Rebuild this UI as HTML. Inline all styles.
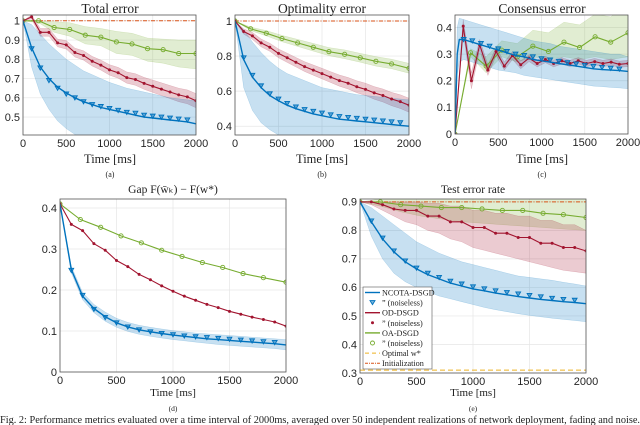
<!DOCTYPE html>
<html><head><meta charset="utf-8"><style>
html,body{margin:0;padding:0;background:#fff;}
svg{display:block;}
.tk{font-family:"Liberation Sans",sans-serif;font-size:11px;fill:#262626;}
.sf{font-family:"Liberation Serif",serif;fill:#222;font-weight:normal;}
</style></head><body>
<svg id="fig" width="640" height="425" viewBox="0 0 640 425" xmlns="http://www.w3.org/2000/svg"></svg>
<script>
// ---- shared time grids ----
const tStep = [0,100,200,300,400,500,600,700,800,900,1000,1100,1200,1300,1400,1500,1600,1700,1800,1900,2000];
const tMark = [100,200,300,400,500,600,700,800,900,1000,1100,1200,1300,1400,1500,1600,1700,1800,1900];
const tGreen = [0,180,360,540,720,900,1080,1260,1440,1620,1800,2000];
const xTicks = [0,500,1000,1500,2000];

// ---- (a) Total error ----
const aBlue = [1,0.86,0.76,0.70,0.655,0.625,0.60,0.58,0.565,0.55,0.54,0.53,0.52,0.51,0.50,0.495,0.49,0.485,0.48,0.475,0.465];
const aBlueHi = [1,0.98,0.93,0.88,0.84,0.80,0.77,0.74,0.72,0.70,0.68,0.665,0.65,0.64,0.63,0.62,0.61,0.60,0.595,0.59,0.585];
const aBlueLo = [1,0.76,0.62,0.54,0.48,0.44,0.41,0.39,0.37,0.36,0.35,0.34,0.33,0.32,0.31,0.30,0.30,0.29,0.29,0.28,0.28];
const aBlueMk = [0.855,0.755,0.69,0.65,0.62,0.60,0.58,0.565,0.555,0.545,0.535,0.525,0.52,0.51,0.505,0.50,0.495,0.49,0.485];
const aRed = [1,1.02,0.94,0.94,0.885,0.875,0.835,0.82,0.79,0.77,0.745,0.73,0.705,0.695,0.675,0.66,0.645,0.63,0.615,0.605,0.585];
const aRedHi = [1,1.03,0.96,0.96,0.905,0.897,0.858,0.844,0.815,0.796,0.772,0.758,0.734,0.725,0.706,0.692,0.678,0.664,0.65,0.641,0.622];
const aRedLo = [1,1.01,0.92,0.92,0.865,0.853,0.812,0.796,0.765,0.744,0.718,0.702,0.676,0.665,0.644,0.628,0.612,0.596,0.58,0.569,0.548];
const aGreen = [1,1,0.965,0.955,0.925,0.915,0.89,0.88,0.855,0.85,0.83,0.83];
const aGreenHi = [1,1,0.995,0.99,0.97,0.96,0.945,0.935,0.91,0.905,0.9,0.9];
const aGreenLo = [1,0.99,0.94,0.92,0.88,0.87,0.83,0.82,0.79,0.78,0.76,0.75];
const aYTicks = [0.5,0.6,0.7,0.8,0.9,1];
const aYLabels = ["0.5","0.6","0.7","0.8","0.9","1"];

// ---- (b) Optimality error ----
const bBlue = [1,0.78,0.68,0.62,0.575,0.545,0.52,0.50,0.485,0.47,0.46,0.45,0.44,0.435,0.43,0.425,0.42,0.415,0.41,0.405,0.40];
const bBlueHi = [1,0.95,0.88,0.82,0.77,0.73,0.70,0.68,0.66,0.64,0.62,0.61,0.60,0.59,0.58,0.575,0.57,0.565,0.56,0.555,0.55];
const bBlueLo = [1,0.62,0.49,0.42,0.38,0.35,0.33,0.32,0.31,0.30,0.29,0.28,0.28,0.27,0.27,0.26,0.26,0.25,0.25,0.25,0.24];
const bBlueMk = [0.79,0.69,0.63,0.585,0.555,0.53,0.51,0.495,0.485,0.475,0.465,0.455,0.45,0.445,0.44,0.435,0.43,0.425,0.42];
const bRed = [1,0.94,0.915,0.875,0.85,0.815,0.79,0.765,0.74,0.72,0.70,0.68,0.66,0.645,0.625,0.61,0.59,0.575,0.555,0.54,0.52];
const bRedHi = [1,0.955,0.935,0.897,0.873,0.84,0.816,0.792,0.768,0.749,0.73,0.711,0.692,0.678,0.659,0.645,0.626,0.612,0.593,0.579,0.56];
const bRedLo = [1,0.925,0.895,0.853,0.827,0.79,0.764,0.738,0.712,0.691,0.67,0.649,0.628,0.612,0.591,0.575,0.554,0.538,0.517,0.501,0.48];
const bGreen = [1,0.955,0.93,0.9,0.875,0.85,0.825,0.81,0.79,0.77,0.755,0.73];
const bGreenHi = [1,0.965,0.945,0.918,0.895,0.872,0.848,0.835,0.815,0.797,0.782,0.758];
const bGreenLo = [1,0.945,0.915,0.882,0.855,0.828,0.802,0.785,0.765,0.743,0.728,0.702];
const bYTicks = [0.4,0.6,0.8,1];
const bYLabels = ["0.4","0.6","0.8","1"];

// ---- (c) Consensus error ----
const tCons = [0,25,50,100,200,300,400,500,600,700,800,900,1000,1100,1200,1300,1400,1500,1600,1700,1800,1900,2000];
const cBlue = [0,0.3,0.355,0.355,0.345,0.335,0.325,0.315,0.305,0.295,0.29,0.28,0.275,0.27,0.265,0.26,0.255,0.25,0.245,0.242,0.24,0.238,0.235];
const cBlueHi = [0,0.4,0.435,0.43,0.42,0.41,0.40,0.39,0.38,0.37,0.36,0.35,0.345,0.34,0.33,0.325,0.32,0.315,0.31,0.305,0.30,0.30,0.29];
const cBlueLo = [0,0.22,0.27,0.28,0.27,0.26,0.25,0.24,0.235,0.23,0.22,0.215,0.21,0.205,0.2,0.195,0.19,0.185,0.18,0.178,0.175,0.173,0.17];
const cBlueMk = [0.355,0.35,0.34,0.33,0.32,0.31,0.30,0.295,0.29,0.283,0.278,0.273,0.268,0.263,0.258,0.254,0.25,0.247,0.244];
const tRedC = [0,95,190,285,380,475,570,665,760,855,950,1045,1140,1235,1330,1425,1520,1615,1710,1805,1900,2000];
const cRed = [0,0.405,0.2,0.335,0.24,0.31,0.255,0.295,0.26,0.285,0.265,0.28,0.265,0.275,0.265,0.275,0.265,0.272,0.265,0.27,0.262,0.265];
const cRedHi = [0,0.43,0.23,0.355,0.26,0.325,0.27,0.31,0.275,0.298,0.278,0.292,0.278,0.287,0.277,0.287,0.277,0.284,0.277,0.282,0.274,0.277];
const cRedLo = [0,0.38,0.17,0.315,0.22,0.295,0.24,0.28,0.245,0.272,0.252,0.268,0.252,0.263,0.253,0.263,0.253,0.26,0.253,0.258,0.25,0.253];
const cGreen = [0,0.305,0.255,0.315,0.29,0.33,0.31,0.345,0.325,0.365,0.345,0.38];
const cGreenHi = [0,0.32,0.29,0.35,0.34,0.39,0.38,0.42,0.41,0.45,0.44,0.49];
const cGreenLo = [0,0.29,0.23,0.29,0.27,0.29,0.28,0.29,0.28,0.29,0.28,0.29];
const cYTicks = [0,0.1,0.2,0.3,0.4];
const cYLabels = ["0","0.1","0.2","0.3","0.4"];

// ---- (d) Gap ----
const dBlue = [0.41,0.25,0.185,0.155,0.135,0.12,0.11,0.103,0.098,0.094,0.09,0.087,0.084,0.081,0.079,0.077,0.075,0.073,0.071,0.069,0.066];
const dBlueHi = [0.41,0.258,0.194,0.165,0.146,0.131,0.121,0.114,0.109,0.105,0.101,0.098,0.095,0.093,0.091,0.089,0.087,0.085,0.083,0.081,0.079];
const dBlueLo = [0.41,0.242,0.176,0.145,0.124,0.109,0.099,0.092,0.087,0.083,0.079,0.076,0.073,0.07,0.067,0.065,0.063,0.061,0.059,0.057,0.054];
const dBlueMk = [0.248,0.187,0.153,0.133,0.12,0.11,0.103,0.098,0.094,0.091,0.088,0.086,0.084,0.082,0.08,0.078,0.076,0.074,0.072];
const dRed = [0.41,0.36,0.345,0.313,0.297,0.272,0.257,0.238,0.225,0.21,0.197,0.185,0.175,0.165,0.157,0.148,0.141,0.134,0.128,0.122,0.112];
const dGreen = [0.41,0.372,0.353,0.332,0.315,0.297,0.282,0.267,0.255,0.24,0.23,0.219];
const dYTicks = [0,0.1,0.2,0.3,0.4];
const dYLabels = ["0","0.1","0.2","0.3","0.4"];

// ---- (e) Test error rate ----
const eBlue = [0.9,0.83,0.77,0.725,0.69,0.665,0.645,0.63,0.615,0.605,0.595,0.588,0.58,0.574,0.568,0.563,0.558,0.554,0.55,0.547,0.543];
const eBlueHi = [0.9,0.88,0.85,0.82,0.79,0.76,0.74,0.72,0.705,0.69,0.68,0.67,0.66,0.65,0.64,0.635,0.63,0.625,0.618,0.612,0.605];
const eBlueLo = [0.9,0.78,0.7,0.65,0.62,0.6,0.585,0.57,0.56,0.55,0.54,0.53,0.522,0.515,0.508,0.502,0.497,0.492,0.488,0.484,0.48];
const eBlueMk = [0.833,0.773,0.728,0.693,0.668,0.65,0.635,0.622,0.612,0.602,0.595,0.588,0.582,0.577,0.572,0.567,0.562,0.558,0.555];
const eRed = [0.9,0.9,0.89,0.875,0.87,0.87,0.85,0.85,0.83,0.83,0.81,0.81,0.79,0.79,0.775,0.775,0.755,0.755,0.74,0.74,0.728];
const eRedHi = [0.9,0.9,0.9,0.9,0.9,0.9,0.895,0.895,0.885,0.885,0.87,0.87,0.86,0.86,0.85,0.85,0.835,0.835,0.82,0.82,0.8];
const eRedLo = [0.9,0.89,0.87,0.85,0.83,0.82,0.8,0.79,0.77,0.76,0.74,0.73,0.72,0.71,0.7,0.69,0.68,0.67,0.66,0.655,0.65];
const eGreen = [0.9,0.9,0.89,0.885,0.88,0.88,0.875,0.87,0.87,0.86,0.855,0.845];
const eGreenHi = [0.9,0.91,0.91,0.91,0.91,0.91,0.91,0.91,0.91,0.91,0.91,0.91];
const eGreenLo = [0.9,0.885,0.865,0.85,0.84,0.83,0.825,0.82,0.815,0.81,0.805,0.8];
const eYTicks = [0.3,0.4,0.5,0.6,0.7,0.8,0.9];
const eYLabels = ["0.3","0.4","0.5","0.6","0.7","0.8","0.9"];
const eOptimal = 0.31;
const eInit = 0.9;

const legendLabels = ["NCOTA-DSGD","\u201D (noiseless)","OD-DSGD","\u201D (noiseless)","OA-DSGD","\u201D (noiseless)","Optimal w*","Initialization"];

const NS = "http://www.w3.org/2000/svg";
const svg = document.getElementById('fig');
const BLUE="#0072BD", RED="#A2142F", GREEN="#77AC30", YEL="#EDB120", INIT="#D95319";

function mk(tag, parent){ const e=document.createElementNS(NS,tag); (parent||svg).appendChild(e); return e; }
function attrs(e,o){ for(const k in o) e.setAttribute(k,o[k]); return e; }

function makeAxes(name, box, ymin, ymax, yTicks, yLabels){
  const g = mk('g');
  
  
  const sx = t => box.x0 + (t/2000)*(box.x1-box.x0);
  const sy = v => box.y1 - (v-ymin)/(ymax-ymin)*(box.y1-box.y0);
  const clipId = name+'-clip';
  const cp = mk('clipPath', g); cp.setAttribute('id', clipId);
  attrs(mk('rect', cp), {x:box.x0,y:box.y0,width:box.x1-box.x0,height:box.y1-box.y0});
  attrs(mk('rect', g), {x:box.x0,y:box.y0,width:box.x1-box.x0,height:box.y1-box.y0,fill:'#fff'});
  xTicks.forEach(t=>{
    const l = attrs(mk('line',g),{x1:sx(t),x2:sx(t),y1:box.y0,y2:box.y1,stroke:'#e6e6e6','stroke-width':0.7});
    
    
    const tx = attrs(mk('text',g),{x:sx(t),y:box.y1+12,'text-anchor':'middle',class:'tk'});
    tx.textContent = String(t);
    
    
  });
  yTicks.forEach((v,i)=>{
    const l = attrs(mk('line',g),{x1:box.x0,x2:box.x1,y1:sy(v),y2:sy(v),stroke:'#e6e6e6','stroke-width':0.7});
    
    
    const tx = attrs(mk('text',g),{x:box.x0-3,y:sy(v)+3.8,'text-anchor':'end',class:'tk'});
    tx.textContent = yLabels[i];
    
    
  });
  const plot = mk('g', g); plot.setAttribute('clip-path','url(#'+clipId+')');
  
  
  attrs(mk('rect', g), {x:box.x0,y:box.y0,width:box.x1-box.x0,height:box.y1-box.y0,fill:'none',stroke:'#555','stroke-width':0.8});
  return {g, plot, sx, sy, box};
}
function band(ax, ts, lo, hi, color, op, nm){
  let d='';
  ts.forEach((t,i)=>{ d += (i?'L':'M')+ax.sx(t).toFixed(1)+','+ax.sy(hi[i]).toFixed(1); });
  for(let i=ts.length-1;i>=0;i--) d += 'L'+ax.sx(ts[i]).toFixed(1)+','+ax.sy(lo[i]).toFixed(1);
  const p = attrs(mk('path',ax.plot),{d:d+'Z',fill:color,'fill-opacity':op,stroke:color,'stroke-opacity':0.25,'stroke-width':0.5});
  
  
}
function line(ax, ts, vs, color, w, nm, dash){
  const pts = ts.map((t,i)=>ax.sx(t).toFixed(1)+','+ax.sy(vs[i]).toFixed(1)).join(' ');
  const p = attrs(mk('polyline',ax.plot),{points:pts,fill:'none',stroke:color,'stroke-width':w,'stroke-linejoin':'round'});
  if(dash) p.setAttribute('stroke-dasharray',dash);
  
  
}
function markers(ax, ts, vs, type, nm){
  const g = mk('g', ax.plot);
  
  
  ts.forEach((t,i)=>{
    const x=ax.sx(t), y=ax.sy(vs[i]);
    let e;
    if(type==='tri'){ e=attrs(mk('path',g),{d:`M${x-2.4},${y-2} L${x+2.4},${y-2} L${x},${y+2.2}Z`,fill:BLUE,'fill-opacity':0.55,stroke:BLUE,'stroke-width':0.9}); }
    else if(type==='dot'){ e=attrs(mk('circle',g),{cx:x,cy:y,r:1.5,fill:RED}); }
    else { e=attrs(mk('circle',g),{cx:x,cy:y,r:2.1,fill:'none',stroke:GREEN,'stroke-width':0.9}); }
    
    
  });
}
function hline(ax, v, color, dash, nm){
  const l = attrs(mk('line',ax.plot),{x1:ax.box.x0,x2:ax.box.x1,y1:ax.sy(v),y2:ax.sy(v),stroke:color,'stroke-width':1,'stroke-dasharray':dash});
  
  
}
function label(x,y,txt,size,nm,anchor){
  const t = attrs(mk('text'),{x:x,y:y,'text-anchor':anchor||'middle',class:'sf','font-size':size});
  t.textContent = txt;
  
  
  return t;
}
function standard(ax, p){
  if(p.gLo) band(ax, tGreen, p.gLo, p.gHi, GREEN, 0.22, 'oa-band');
  if(p.rLo) band(ax, p.rT||tStep, p.rLo, p.rHi, RED, 0.22, 'od-band');
  if(p.bLo) band(ax, p.bT||tStep, p.bLo, p.bHi, BLUE, 0.22, 'ncota-band');
  if(p.init!==undefined) hline(ax, p.init, INIT, '4,1.5,1,1.5', 'initialization-line');
  line(ax, tGreen, p.g, GREEN, 1.1, 'oa-line');
  markers(ax, tGreen, p.g, 'circ', 'oa-noiseless-markers');
  line(ax, p.rT||tStep, p.r, RED, 1.1, 'od-line');
  markers(ax, p.rT||tStep, p.r, 'dot', 'od-noiseless-markers');
  line(ax, p.bT||tStep, p.b, BLUE, 1.4, 'ncota-line');
  markers(ax, tMark, p.bMk, 'tri', 'ncota-noiseless-markers');
}

const axA = makeAxes('total-error-chart',{x0:23,x1:196,y0:15,y1:135},0.407,1.03,aYTicks,aYLabels);
standard(axA,{b:aBlue,bLo:aBlueLo,bHi:aBlueHi,bMk:aBlueMk,r:aRed,rLo:aRedLo,rHi:aRedHi,g:aGreen,gLo:aGreenLo,gHi:aGreenHi,init:1});
label(110,13,'Total error',13.5,'total-error-title');
label(110,163,'Time [ms]',12.5,'x-axis-title-a');
label(110,177,'(a)',8,'subcaption-a');

const axB = makeAxes('optimality-error-chart',{x0:235,x1:409,y0:15,y1:135},0.35,1.034,bYTicks,bYLabels);
standard(axB,{b:bBlue,bLo:bBlueLo,bHi:bBlueHi,bMk:bBlueMk,r:bRed,rLo:bRedLo,rHi:bRedHi,g:bGreen,gLo:bGreenLo,gHi:bGreenHi,init:1});
label(322,13,'Optimality error',13.5,'optimality-error-title');
label(322,163,'Time [ms]',12.5,'x-axis-title-b');
label(322,177,'(b)',8,'subcaption-b');

const axC = makeAxes('consensus-error-chart',{x0:455,x1:628,y0:15,y1:134},0,0.447,cYTicks,cYLabels);
standard(axC,{b:cBlue,bT:tCons,bLo:cBlueLo,bHi:cBlueHi,bMk:cBlueMk,r:cRed,rT:tRedC,rLo:cRedLo,rHi:cRedHi,g:cGreen,gLo:cGreenLo,gHi:cGreenHi});
label(542,13,'Consensus error',13.5,'consensus-error-title');
label(542,163,'Time [ms]',12.5,'x-axis-title-c');
label(542,177,'(c)',8,'subcaption-c');

const axD = makeAxes('gap-chart',{x0:60,x1:286,y0:199,y1:372},0,0.422,dYTicks,dYLabels);
standard(axD,{b:dBlue,bLo:dBlueLo,bHi:dBlueHi,bMk:dBlueMk,r:dRed,g:dGreen});
label(173,193,'Gap F(w\u0304\u2096) \u2212 F(w*)',11.5,'gap-title');
label(173,396,'Time [ms]',11,'x-axis-title-d');
label(173,411,'(d)',7.5,'subcaption-d');

const axE = makeAxes('test-error-chart',{x0:360,x1:586,y0:199,y1:373},0.3,0.91,eYTicks,eYLabels);
hline(axE, eOptimal, YEL, '5,3', 'optimal-line');
standard(axE,{b:eBlue,bLo:eBlueLo,bHi:eBlueHi,bMk:eBlueMk,r:eRed,rLo:eRedLo,rHi:eRedHi,g:eGreen,gLo:eGreenLo,gHi:eGreenHi,init:eInit});
label(473,193,'Test error rate',11.5,'test-error-title');
label(473,396,'Time [ms]',11,'x-axis-title-e');
label(473,411,'(e)',7.5,'subcaption-e');

const lg = mk('g');


attrs(mk('rect',lg),{x:363,y:287,width:69,height:82,fill:'#fff',stroke:'#555','stroke-width':0.6});
legendLabels.forEach((s,i)=>{
  const y = 292.5 + i*10.1;
  const it = mk('g',lg);
  
  
  if(i===0) attrs(mk('line',it),{x1:365,x2:380,y1:y,y2:y,stroke:BLUE,'stroke-width':1.4});
  if(i===2) attrs(mk('line',it),{x1:365,x2:380,y1:y,y2:y,stroke:RED,'stroke-width':1.4});
  if(i===4) attrs(mk('line',it),{x1:365,x2:380,y1:y,y2:y,stroke:GREEN,'stroke-width':1.4});
  if(i===1) attrs(mk('path',it),{d:`M370,${y-2} L375,${y-2} L372.5,${y+2}Z`,fill:BLUE,'fill-opacity':0.55,stroke:BLUE,'stroke-width':0.9});
  if(i===3) attrs(mk('circle',it),{cx:372.5,cy:y,r:1.5,fill:RED});
  if(i===5) attrs(mk('circle',it),{cx:372.5,cy:y,r:2,fill:'none',stroke:GREEN,'stroke-width':0.9});
  if(i===6) attrs(mk('line',it),{x1:365,x2:380,y1:y,y2:y,stroke:YEL,'stroke-width':1,'stroke-dasharray':'4,3'});
  if(i===7) attrs(mk('line',it),{x1:365,x2:380,y1:y,y2:y,stroke:INIT,'stroke-width':1,'stroke-dasharray':'3,1,1,1'});
  const t = attrs(mk('text',it),{x:382,y:y+3,class:'sf','font-size':8.2});
  t.textContent = s;
});

const cap = label(0,423,'Fig. 2: Performance metrics evaluated over a time interval of 2000ms, averaged over 50 independent realizations of network deployment, fading and noise.',10.5,'figure-caption','start');
cap.setAttribute('textLength','640');
cap.setAttribute('lengthAdjust','spacingAndGlyphs');
</script>
</body></html>
